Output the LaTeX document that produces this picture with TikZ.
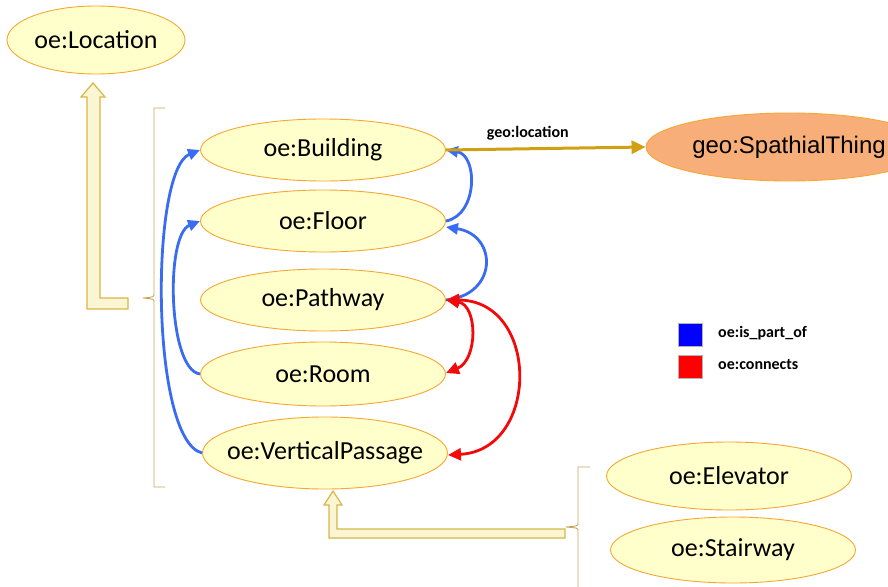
\documentclass[tikz,border=0pt]{standalone}
\usepackage{fontspec}
\setmainfont{Carlito}
\newfontfamily\arialfont{Liberation Sans}
\usetikzlibrary{shapes.geometric,arrows.meta}
\definecolor{nodefill}{HTML}{FFFFCC}
\definecolor{nodeedge}{HTML}{F5A733}
\definecolor{geofill}{HTML}{F8AE78}
\definecolor{partblue}{HTML}{3A6CF2}
\definecolor{conred}{HTML}{F20A0A}
\definecolor{locgold}{HTML}{D0A012}
\definecolor{bracetan}{HTML}{C9A55A}
\definecolor{blockfill}{HTML}{FAF6D4}
\definecolor{blockedge}{HTML}{D8B648}
\newcommand{\ztext}[1]{\makebox[0pt]{#1}}
\begin{document}
\begin{tikzpicture}[x=1pt,y=-1pt,
  cls/.style={ellipse, draw=nodeedge, fill=nodefill, line width=0.9pt, inner sep=0pt,
    minimum width=245pt, minimum height=62pt, font=\fontsize{26}{26}\selectfont},
  geocls/.style={ellipse, draw=nodeedge, fill=geofill, line width=0.9pt, inner sep=0pt,
    minimum width=286pt, minimum height=68pt, font=\arialfont\fontsize{24}{24}\selectfont},
  partarc/.style={draw=partblue, line width=2.8pt, -{Triangle[length=12pt,width=11pt]}},
  conarc/.style={draw=conred, line width=2.8pt, {Triangle[length=13pt,width=12pt]}-{Triangle[length=13pt,width=12pt]}},
  locarr/.style={draw=locgold, line width=3pt, -{Triangle[length=14pt,width=13pt]}},
  bracket/.style={draw=bracetan, line width=0.9pt},
  blockarr/.style={draw=blockedge, fill=blockfill, line width=1.2pt, line join=miter},
  lbl/.style={font=\bfseries\fontsize{16}{16}\selectfont, inner sep=0pt},
  legbox/.style={draw=gray!60, line width=1pt}
]
\useasboundingbox (0,0) rectangle (888,586);
\clip (0,0) rectangle (888,586);

% block arrows
\draw[blockarr] (93,83) -- (105,97) -- (100,97) -- (100,298) -- (128,298) -- (128,309)
  -- (87,309) -- (87,97) -- (81,97) -- cycle;
\draw[blockarr] (333,491) -- (342,505) -- (337,505) -- (337,529) -- (565,529) -- (565,538)
  -- (329,538) -- (329,505) -- (324,505) -- cycle;

% brackets
\draw[bracket] (165,108) -- (154,108) -- (154,294) .. controls (154,297) .. (143,298)
  .. controls (154,299) .. (154,302) -- (154,487) -- (165,487);
\draw[bracket] (590,467) -- (578,467) -- (578,523) .. controls (578,526) .. (566,527)
  .. controls (578,528) .. (578,531) -- (578,590);

% nodes
\node[cls, minimum width=178pt, minimum height=68pt] (loc) at (96,40) {\ztext{oe:Location}};
\node[cls] (bld) at (323,150) {\ztext{oe:Building}};
\node[cls] (flr) at (323,221) {\ztext{oe:Floor}};
\node[cls] (pw) at (323,300) {\ztext{oe:Pathway}};
\node[cls, minimum height=64pt] (room) at (323,374) {\ztext{oe:Room}};
\node[cls, minimum height=72pt] (vp) at (325,453) {\ztext{oe:VerticalPassage}};
\node[geocls] (geo) at (789,147) {\ztext{geo:SpathialThing}};
\node[cls, minimum height=68pt] (elev) at (729,476) {\ztext{oe:Elevator}};
\node[cls, minimum height=66pt] (stair) at (733,550) {\ztext{oe:Stairway}};

% is_part_of arcs
\draw[partarc] (vp.west) .. controls (150,440) and (150,170) .. (bld.west);
\draw[partarc] (room.west) .. controls (168,370) and (165,235) .. (flr.west);
\draw[partarc] (flr.east) .. controls (478,215) and (478,155) .. (bld.east);
\draw[partarc] (pw.east) .. controls (498,295) and (498,235) .. ([yshift=-6pt]flr.east);

% connects arcs
\draw[conarc] (pw.east) .. controls (478,305) and (478,360) .. ([yshift=1pt]room.east);
\draw[conarc] (pw.east) .. controls (540,300) and (540,450) .. ([yshift=-2pt]vp.east);

% geo:location
\draw[locarr] (bld.east) -- (geo.west) node[lbl, pos=0.41, above=7pt] (loclbl) {geo:location};

% legend
\node[legbox, fill=blue, minimum width=24pt, minimum height=23pt, inner sep=0pt] (legb) at (690,334.5) {};
\node[legbox, fill=red, minimum width=24pt, minimum height=23pt, inner sep=0pt] (legr) at (690,366.5) {};
\node[lbl, anchor=west] (legbt) at (718,333) {oe:is\_part\_of};
\node[lbl, anchor=west] (legrt) at (718,365) {oe:connects};
\end{tikzpicture}
\end{document}
